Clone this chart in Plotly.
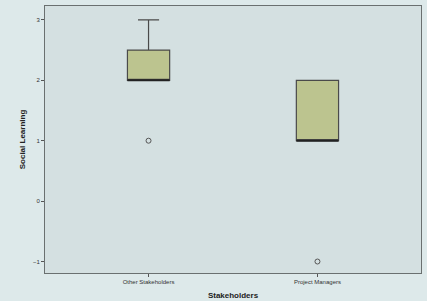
import plotly.graph_objects as go

categories = ["Other Stakeholders", "Project Managers"]
q1 = [2, 1]
medians = [2, 1]
q3 = [2.5, 2]
lower_fence = [2, 1]
upper_fence = [3, 2]
outlier_cats = ["Other Stakeholders", "Project Managers"]
outlier_vals = [1, -1]
y_ticks = [-1, 0, 1, 2, 3]

fig = go.Figure()
fig.add_trace(go.Box(
    x=categories, q1=q1, median=medians, q3=q3,
    lowerfence=lower_fence, upperfence=upper_fence,
    fillcolor="#bcc48f", line=dict(color="#4a4a4a", width=1.2),
    width=0.25, whiskerwidth=0.5, boxpoints=False, showlegend=False,
    hoverinfo="skip",
))
# Thick median lines
for i, m in enumerate(medians):
    fig.add_shape(type="line", xref="x", yref="y",
                  x0=i - 0.125, x1=i + 0.125, y0=m, y1=m,
                  line=dict(color="#222222", width=2))
fig.add_trace(go.Scatter(
    x=outlier_cats, y=outlier_vals, mode="markers",
    marker=dict(symbol="circle-open", size=5, color="#555555", line=dict(width=1)),
    showlegend=False, hoverinfo="skip",
))

# decorative light corner
fig.add_shape(type="path", xref="paper", yref="paper", layer="below",
              path="M -0.2 -0.13 L -0.2 -0.085 L -0.165 -0.135 Z",
              fillcolor="#f3f8f8", line=dict(width=0))

fig.update_layout(
    width=427, height=301,
    margin=dict(l=45, r=6, t=6, b=28, autoexpand=False),
    paper_bgcolor="#dde9ea", plot_bgcolor="#d4e0e1",
    font=dict(family="Liberation Sans, Arial", color="#333333", size=6),
    xaxis=dict(
        type="category", range=[-0.613, 1.613], automargin=False,
        showgrid=False, zeroline=False,
        ticks="outside", ticklen=3, tickcolor="#555555",
        showline=True, linecolor="#6a7070", linewidth=1, mirror=True,
        tickfont=dict(size=6),
        title=dict(text="<b>Stakeholders</b>", font=dict(size=8, color="#222222"), standoff=8),
    ),
    yaxis=dict(
        range=[-1.19, 3.23], tickvals=y_ticks, automargin=False,
        showgrid=False, zeroline=False,
        ticks="outside", ticklen=3, tickcolor="#555555",
        showline=True, linecolor="#6a7070", linewidth=1, mirror=True,
        tickfont=dict(size=6),
        title=dict(text="<b>Social Learning</b>", font=dict(size=8, color="#222222"), standoff=6),
    ),
)

fig.write_html("out.html", config={"displayModeBar": False},
               post_script="document.body.style.margin='0';document.body.style.overflow='hidden';")
